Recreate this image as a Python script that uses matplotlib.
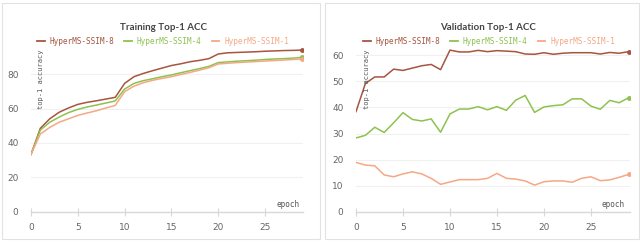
import matplotlib
matplotlib.use("Agg")
import matplotlib.pyplot as plt
from matplotlib.patches import Rectangle
from matplotlib.lines import Line2D

epochs = list(range(30))
series_names = ["HyperMS-SSIM-8", "HyperMS-SSIM-4", "HyperMS-SSIM-1"]
colors = ["#a6553f", "#8dc24f", "#f4a886"]

train_ssim8 = [33.3, 48.5, 54.0, 57.8, 60.3, 62.4, 63.6, 64.5, 65.5, 66.5,
               74.6, 78.5, 80.4, 82.0, 83.5, 85.0, 86.0, 87.2, 88.0, 89.0,
               91.7, 92.4, 92.6, 92.8, 93.0, 93.3, 93.5, 93.7, 93.8, 94.0]
train_ssim4 = [33.3, 47.5, 52.0, 55.0, 57.6, 59.5, 60.9, 62.0, 63.2, 64.4,
               71.3, 74.6, 76.2, 77.3, 78.5, 79.5, 80.8, 82.0, 83.2, 84.5,
               86.7, 87.1, 87.5, 87.8, 88.1, 88.5, 88.8, 89.0, 89.3, 89.8]
train_ssim1 = [33.3, 45.2, 49.0, 52.0, 54.0, 56.0, 57.4, 58.7, 60.3, 61.8,
               69.8, 73.0, 75.0, 76.4, 77.5, 78.5, 79.8, 81.0, 82.3, 83.7,
               85.9, 86.3, 86.7, 87.0, 87.3, 87.6, 87.9, 88.2, 88.5, 88.8]

val_ssim8 = [38.4, 49.2, 51.7, 51.7, 54.7, 54.2, 55.1, 56.0, 56.5, 54.5,
             62.0, 61.3, 61.3, 61.9, 61.4, 61.8, 61.6, 61.4, 60.5, 60.4,
             61.0, 60.4, 60.8, 61.0, 61.0, 61.0, 60.5, 61.1, 60.8, 61.4]
val_ssim4 = [28.3, 29.3, 32.4, 30.4, 34.1, 38.0, 35.4, 34.8, 35.6, 30.5,
             37.5, 39.4, 39.4, 40.3, 39.1, 40.3, 38.9, 42.8, 44.6, 38.1,
             40.2, 40.7, 41.0, 43.3, 43.3, 40.5, 39.3, 42.7, 41.8, 43.7]
val_ssim1 = [18.9, 17.9, 17.6, 14.1, 13.4, 14.5, 15.3, 14.5, 12.8, 10.5,
             11.4, 12.3, 12.3, 12.3, 12.8, 14.7, 12.8, 12.5, 11.8, 10.2,
             11.5, 11.8, 11.8, 11.3, 12.8, 13.4, 11.9, 12.2, 13.2, 14.3]

train_ticks_y = [0, 20, 40, 60, 80]
val_ticks_y = [0, 10, 20, 30, 40, 50, 60]
ticks_x = [0, 5, 10, 15, 20, 25]

W, H = 640, 242
fig = plt.figure(figsize=(6.4, 2.42), dpi=100)
fig.patch.set_facecolor("white")

def px(x0, y0, x1, y1):
    return [x0 / W, 1 - y1 / H, (x1 - x0) / W, (y1 - y0) / H]

# card borders
border = "#e2e2e2"
for (x0, x1) in [(1.5, 319.5), (325.0, 638.5)]:
    fig.add_artist(Rectangle((x0 / W, 1 - 238.5 / H), (x1 - x0) / W, (238.5 - 3) / H,
                             transform=fig.transFigure, fill=False,
                             edgecolor=border, linewidth=0.8))

mono = "DejaVu Sans Mono"
tick_color = "#666666"

def panel(rect, ys, ylim, yticks, title, title_x, ylab_x, epoch_x, leg_center):
    ax = fig.add_axes(rect)
    for y, c in zip(ys, colors):
        ax.plot(epochs, y, color=c, linewidth=1.1)
        ax.plot(epochs[-1], y[-1], "o", color=c, markersize=2.5)
    ax.set_xlim(0, 29.1)
    ax.set_ylim(*ylim)
    ax.set_yticks(yticks)
    ax.set_xticks(ticks_x)
    for s in ["top", "right", "left"]:
        ax.spines[s].set_visible(False)
    ax.spines["bottom"].set_color("#d8d8d8")
    ax.spines["bottom"].set_linewidth(1.0)
    ax.tick_params(axis="y", length=0, pad=9, labelsize=6.5, labelcolor=tick_color)
    ax.tick_params(axis="x", direction="inout", length=6, width=0.8, color="#d8d8d8",
                   pad=5, labelsize=6.5, labelcolor=tick_color)
    ax.grid(axis="y", color="#f0f0f0", linewidth=0.8)
    ax.set_axisbelow(True)
    fig.text(title_x / W, 1 - 28 / H, title, ha="center", va="center",
             fontsize=7, fontweight="bold", color="#444444", family="Lato")
    fig.text(ylab_x / W, 1 - 79 / H, "top-1 accuracy", rotation=90, ha="center",
             va="center", fontsize=5, color="#555555", family=mono)
    fig.text(epoch_x / W, 1 - 204.5 / H, "epoch", ha="center", va="center",
             fontsize=5.5, color="#555555", family=mono)
    handles = [Line2D([], [], color=c, linewidth=1.3) for c in colors]
    leg = ax.legend(handles, series_names, loc="center", ncol=3, frameon=False,
                    bbox_to_anchor=(leg_center / W, 1 - 41 / H),
                    bbox_transform=fig.transFigure,
                    prop={"family": mono, "size": 5.6}, handlelength=1.0,
                    handletextpad=0.6, columnspacing=1.3, labelcolor=colors)
    return ax

panel(px(31, 46.6, 303.4, 211.7), [train_ssim8, train_ssim4, train_ssim1],
      (0, 96), train_ticks_y, "Training Top-1 ACC", 163, 40.5, 288, (39 + 287) / 2)
panel(px(356, 47.5, 629.5, 211.7), [val_ssim8, val_ssim4, val_ssim1],
      (0, 63), val_ticks_y, "Validation Top-1 ACC", 488, 367, 613, (365 + 613) / 2)

fig.savefig("out.png", dpi=100, facecolor="white")
